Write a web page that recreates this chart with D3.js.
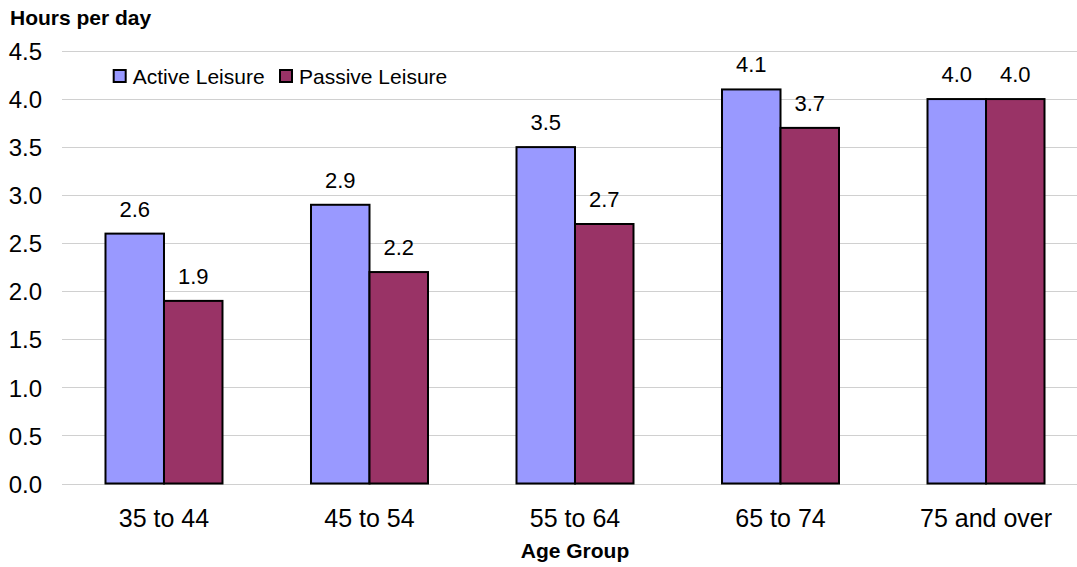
<!DOCTYPE html>
<html>
<head>
<meta charset="utf-8">
<script src="https://cdn.jsdelivr.net/npm/d3@7"></script>
<style>
  html, body { margin: 0; padding: 0; background: #fff; }
  svg { display: block; font-family: "Liberation Sans", Arial, sans-serif; }
</style>
</head>
<body>
<svg id="chart" width="1077" height="567"></svg>
<script>
// Leisure hours per day by age group
const categories = ["35 to 44", "45 to 54", "55 to 64", "65 to 74", "75 and over"];
const seriesNames = ["Active Leisure", "Passive Leisure"];
const activeValues = [2.6, 2.9, 3.5, 4.1, 4.0];
const passiveValues = [1.9, 2.2, 2.7, 3.7, 4.0];
const yTicks = [0.0, 0.5, 1.0, 1.5, 2.0, 2.5, 3.0, 3.5, 4.0, 4.5];
const colors = ["#9999ff", "#993366"];

const W = 1077, H = 567;
const svg = d3.select("#chart");
const plotLeft = 62;

const x = d3.scaleBand().domain(categories)
  .range([61.25, 1088.75]).paddingInner(0.4307).paddingOuter(0.2153);
const xs = d3.scaleBand().domain(seriesNames).range([0, x.bandwidth()]);
const y = d3.scaleLinear().domain([0, 4.5]).range([483.5, 51]);

// gridlines
svg.append("g").selectAll("line").data(yTicks).join("line")
  .attr("x1", plotLeft).attr("x2", W)
  .attr("y1", d => Math.round(y(d)) + 0.5).attr("y2", d => Math.round(y(d)) + 0.5)
  .attr("stroke", "#d0d0d0").attr("stroke-width", 1);

// y axis labels
const yAxis = d3.axisLeft(y).tickValues(yTicks).tickFormat(d3.format(".1f")).tickSize(0).tickPadding(0);
const yg = svg.append("g").attr("transform", "translate(42,0)").call(yAxis);
yg.select(".domain").remove();
yg.selectAll("text").attr("font-size", 24).attr("fill", "#000")
  .attr("font-family", "'Liberation Sans', Arial, sans-serif").attr("dy", "0.36em");

// bars
const rows = categories.map((c, i) => ({ cat: c, vals: [activeValues[i], passiveValues[i]] }));
const groups = svg.append("g").selectAll("g").data(rows).join("g")
  .attr("transform", d => `translate(${x(d.cat)},0)`);

const cells = d => d.vals.map((v, j) => ({ v, s: seriesNames[j], j }));

groups.selectAll("rect").data(cells).join("rect")
  .attr("x", d => xs(d.s))
  .attr("y", d => y(d.v))
  .attr("width", xs.bandwidth())
  .attr("height", d => y(0) - y(d.v))
  .attr("fill", d => colors[d.j])
  .attr("stroke", "#000").attr("stroke-width", 2);

groups.selectAll("text").data(cells).join("text")
  .attr("x", d => xs(d.s) + xs.bandwidth() / 2)
  .attr("y", d => y(d.v) - 17)
  .attr("text-anchor", "middle")
  .attr("font-size", 22)
  .attr("fill", "#000")
  .text(d => d3.format(".1f")(d.v));

// x axis category labels
const xAxis = d3.axisBottom(x).tickSize(0).tickPadding(0);
const xg = svg.append("g").attr("transform", `translate(0,${y(0)})`).call(xAxis);
xg.select(".domain").remove();
xg.selectAll("text").attr("font-size", 25).attr("fill", "#000")
  .attr("font-family", "'Liberation Sans', Arial, sans-serif")
  .attr("dy", null).attr("y", 43.5);

// axis titles
svg.append("text").attr("x", 10).attr("y", 25)
  .attr("font-size", 21).attr("font-weight", "bold").text("Hours per day");
svg.append("text").attr("x", x(categories[2]) + x.bandwidth() / 2).attr("y", 558)
  .attr("text-anchor", "middle").attr("font-size", 21).attr("font-weight", "bold").text("Age Group");

// legend
const legend = svg.append("g").attr("transform", "translate(113.7,70)");
const legendX = [0, 166.3];
seriesNames.forEach((name, i) => {
  const g = legend.append("g").attr("transform", `translate(${legendX[i]},0)`);
  g.append("rect").attr("x", 0).attr("y", 0).attr("width", 12).attr("height", 12)
    .attr("fill", colors[i]).attr("stroke", "#000").attr("stroke-width", 2);
  g.append("text").attr("x", 19).attr("y", 14.3).attr("font-size", 21).text(name);
});
</script>
</body>
</html>
